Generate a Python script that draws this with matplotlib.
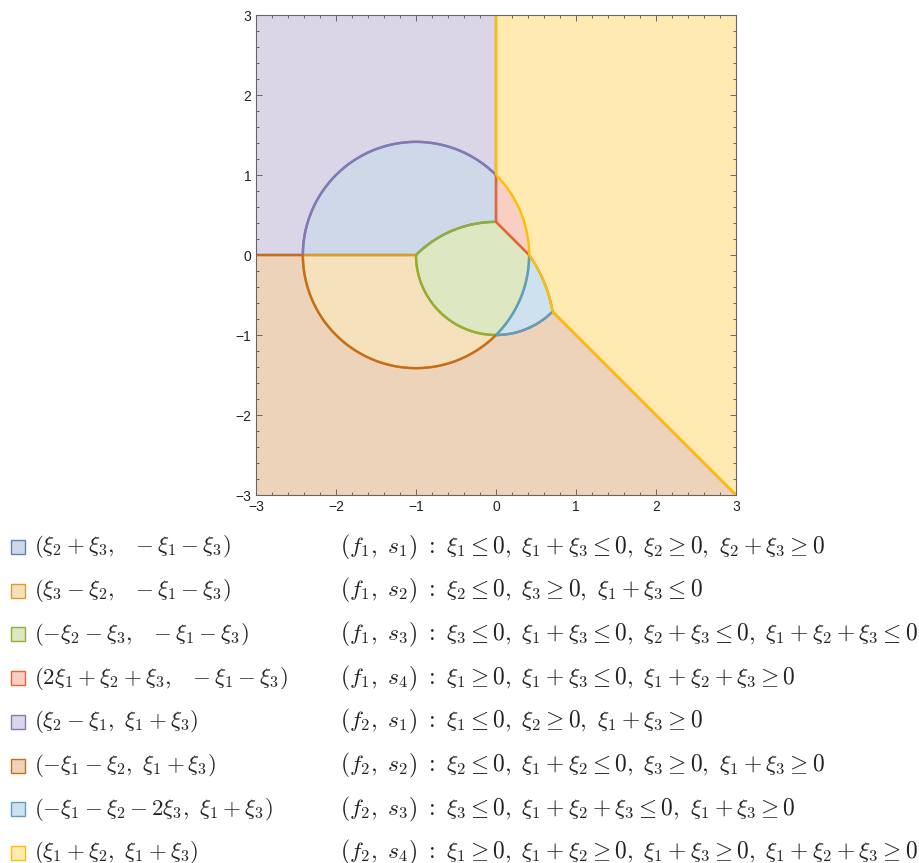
import numpy as np
import matplotlib
matplotlib.use("Agg")
import matplotlib.pyplot as plt
from matplotlib.patches import Polygon, Rectangle
from matplotlib.ticker import MultipleLocator

plt.rcParams['mathtext.fontset'] = 'cm'

S2 = np.sqrt(2.0)
S3 = np.sqrt(3.0)

# circles that bound the regions: (centre, radius)
C_BIG = ((-1.0, 0.0), S2)
C_UNIT = ((0.0, 0.0), 1.0)
C_LENS = ((0.0, -1.0), S2)
C_OUT = ((-1.0, -1.0), S3)

# corner points
P_LEFT = (-1 - S2, 0.0)
P_MID = (-1.0, 0.0)
P_UP = (0.0, S2 - 1)
P_TOP = (0.0, 1.0)
P_RIGHT = (S2 - 1, 0.0)
P_DIAG = (1 / S2, -1 / S2)

A_OUT_LO = np.degrees(np.arctan2(1 - 1 / S2, 1 + 1 / S2))
A_OUT_HI = np.degrees(np.arctan2(1.0, S2))

LIM = 3.0

# each region: list of segments (kind, args..., drawn_outline)
regions = [
    [("line", P_LEFT, P_MID, True), ("arc", C_LENS, 135, 90, True),
     ("line", P_UP, P_TOP, True), ("arc", C_BIG, 45, 180, True)],
    [("line", P_LEFT, P_MID, True), ("arc", C_UNIT, 180, 270, True),
     ("arc", C_BIG, 315, 180, True)],
    [("arc", C_LENS, 135, 90, True), ("line", P_UP, P_RIGHT, True),
     ("arc", C_BIG, 0, -45, True), ("arc", C_UNIT, 270, 180, True)],
    [("line", P_UP, P_TOP, True), ("arc", C_BIG, 45, 0, True),
     ("line", P_RIGHT, P_UP, True)],
    [("line", (-LIM, 0), (-LIM, LIM), False), ("line", (-LIM, LIM), (0, LIM), False),
     ("line", (0, LIM), P_TOP, True), ("arc", C_BIG, 45, 180, True),
     ("line", P_LEFT, (-LIM, 0), True)],
    [("line", (-LIM, 0), P_LEFT, True), ("arc", C_BIG, 180, 315, True),
     ("arc", C_UNIT, 270, 315, True), ("line", P_DIAG, (LIM, -LIM), True),
     ("line", (LIM, -LIM), (-LIM, -LIM), False), ("line", (-LIM, -LIM), (-LIM, 0), False)],
    [("arc", C_BIG, 0, -45, True), ("arc", C_UNIT, 270, 315, True),
     ("arc", C_OUT, A_OUT_LO, A_OUT_HI, True)],
    [("line", (0, LIM), (LIM, LIM), False), ("line", (LIM, LIM), (LIM, -LIM), False),
     ("line", (LIM, -LIM), P_DIAG, True), ("arc", C_OUT, A_OUT_LO, A_OUT_HI, True),
     ("arc", C_BIG, 0, 45, True), ("line", P_TOP, (0, LIM), True)],
]

colors = ["#5E81B5", "#E19C24", "#8FB032", "#EB6235",
          "#8778B3", "#C56E1A", "#5D9EC7", "#FFBF00"]

maps = [
    r"$(\xi_2+\xi_3,\ \ -\xi_1-\xi_3)$",
    r"$(\xi_3-\xi_2,\ \ -\xi_1-\xi_3)$",
    r"$(-\xi_2-\xi_3,\ \ -\xi_1-\xi_3)$",
    r"$(2\xi_1+\xi_2+\xi_3,\ \ -\xi_1-\xi_3)$",
    r"$(\xi_2-\xi_1,\ \xi_1+\xi_3)$",
    r"$(-\xi_1-\xi_2,\ \xi_1+\xi_3)$",
    r"$(-\xi_1-\xi_2-2\xi_3,\ \xi_1+\xi_3)$",
    r"$(\xi_1+\xi_2,\ \xi_1+\xi_3)$",
]

conds = [
    r"$(f_1,\ s_1)\ :\ \xi_1\leq 0,\ \xi_1+\xi_3\leq 0,\ \xi_2\geq 0,\ \xi_2+\xi_3\geq 0$",
    r"$(f_1,\ s_2)\ :\ \xi_2\leq 0,\ \xi_3\geq 0,\ \xi_1+\xi_3\leq 0$",
    r"$(f_1,\ s_3)\ :\ \xi_3\leq 0,\ \xi_1+\xi_3\leq 0,\ \xi_2+\xi_3\leq 0,\ \xi_1+\xi_2+\xi_3\leq 0$",
    r"$(f_1,\ s_4)\ :\ \xi_1\geq 0,\ \xi_1+\xi_3\leq 0,\ \xi_1+\xi_2+\xi_3\geq 0$",
    r"$(f_2,\ s_1)\ :\ \xi_1\leq 0,\ \xi_2\geq 0,\ \xi_1+\xi_3\geq 0$",
    r"$(f_2,\ s_2)\ :\ \xi_2\leq 0,\ \xi_1+\xi_2\leq 0,\ \xi_3\geq 0,\ \xi_1+\xi_3\geq 0$",
    r"$(f_2,\ s_3)\ :\ \xi_3\leq 0,\ \xi_1+\xi_2+\xi_3\leq 0,\ \xi_1+\xi_3\geq 0$",
    r"$(f_2,\ s_4)\ :\ \xi_1\geq 0,\ \xi_1+\xi_2\geq 0,\ \xi_1+\xi_3\geq 0,\ \xi_1+\xi_2+\xi_3\geq 0$",
]


def seg_points(seg):
    if seg[0] == "line":
        return np.array([seg[1], seg[2]], dtype=float)
    (cx, cy), r = seg[1]
    t = np.radians(np.linspace(seg[2], seg[3], 120))
    return np.column_stack([cx + r * np.cos(t), cy + r * np.sin(t)])


W, H = 919, 863
fig = plt.figure(figsize=(W / 100, H / 100), dpi=100)
ax = fig.add_axes([256 / W, 1 - 495 / H, 480 / W, 480 / H])

for segs, col in zip(regions, colors):
    pts = np.vstack([seg_points(s) for s in segs])
    ax.add_patch(Polygon(pts, closed=True, facecolor=col, alpha=0.3,
                         edgecolor="none", zorder=1))
for segs, col in zip(regions, colors):
    for s in segs:
        if s[3]:
            p = seg_points(s)
            ax.plot(p[:, 0], p[:, 1], color=col, lw=1.7,
                    solid_capstyle="butt", zorder=2)

ax.set_xlim(-LIM, LIM)
ax.set_ylim(-LIM, LIM)
ax.xaxis.set_major_locator(MultipleLocator(1))
ax.yaxis.set_major_locator(MultipleLocator(1))
ax.xaxis.set_minor_locator(MultipleLocator(0.2))
ax.yaxis.set_minor_locator(MultipleLocator(0.2))
ax.tick_params(which="both", direction="in", top=True, right=True,
               color="#666666", width=0.7, labelsize=10, pad=3.5,
               labelcolor="#222222")
ax.tick_params(which="major", length=4.5)
ax.tick_params(which="minor", length=2.5)
for lab in ax.get_xticklabels() + ax.get_yticklabels():
    lab.set_fontfamily("Liberation Sans")
for sp in ax.spines.values():
    sp.set_color("#666666")
    sp.set_linewidth(0.8)
    sp.set_zorder(3)

row_y = 547
dy = 43.7
for i, (col, m, c) in enumerate(zip(colors, maps, conds)):
    y = row_y + i * dy
    fig.patches.append(Rectangle((10.5 / W, 1 - (y + 7) / H), 14 / W, 14 / H,
                                 transform=fig.transFigure, facecolor=col,
                                 alpha=0.3, edgecolor="none"))
    fig.patches.append(Rectangle((10.5 / W, 1 - (y + 7) / H), 14 / W, 14 / H,
                                 transform=fig.transFigure, facecolor="none",
                                 edgecolor=col, lw=1.0))
    fig.text(34 / W, 1 - y / H, m, fontsize=16.5, va="center", ha="left", color="#222222")
    fig.text(340 / W, 1 - y / H, c, fontsize=16.9, va="center", ha="left", color="#222222")

fig.savefig("out.png", dpi=100)
